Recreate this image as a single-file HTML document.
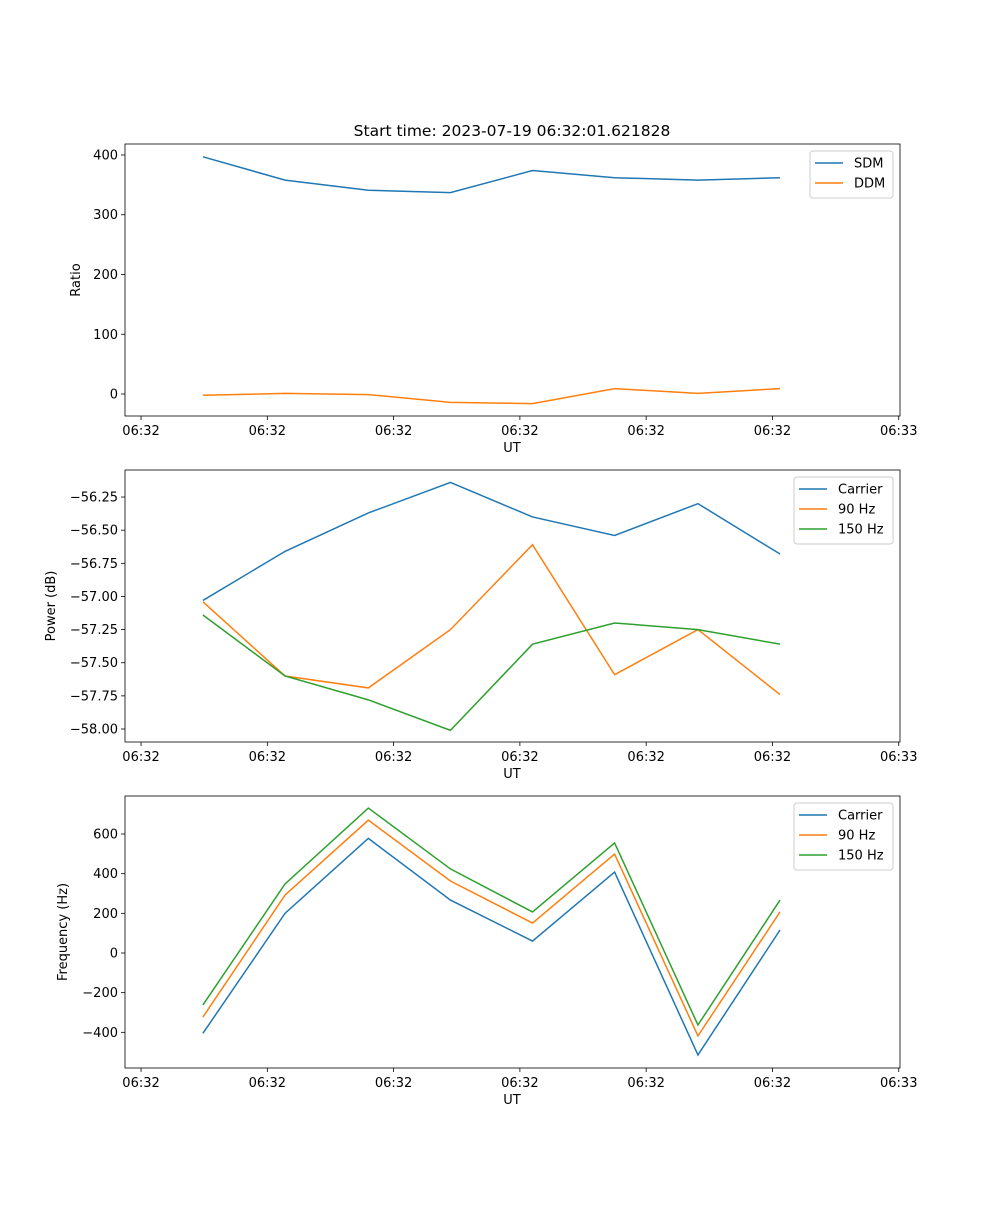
<!DOCTYPE html>
<html><head><meta charset="utf-8"><style>
body{margin:0;background:#fff}
svg text{font-family:"DejaVu Sans","Liberation Sans",sans-serif;font-size:13px;fill:#000}
</style></head><body>
<svg id="c" width="1000" height="1200" xmlns="http://www.w3.org/2000/svg">
<rect width="1000" height="1200" fill="#fff"/>
<text x="512" y="136" text-anchor="middle" style="font-size:15.5px">Start time: 2023-07-19 06:32:01.621828</text>
</svg>
<script>
const times=[4.9,11.4,18.0,24.5,31.0,37.5,44.1,50.6];
const xTicks=[0,10,20,30,40,50,60];
const xTickLabels=["06:32","06:32","06:32","06:32","06:32","06:32","06:33"];
const sdm=[397,358,341,337,374,362,358,362];
const ddm=[-2,1,-1,-14,-16,9,1,9];
const powCarrier=[-57.03,-56.66,-56.37,-56.14,-56.40,-56.54,-56.30,-56.68];
const pow90=[-57.04,-57.60,-57.69,-57.25,-56.61,-57.59,-57.25,-57.74];
const pow150=[-57.14,-57.60,-57.78,-58.01,-57.36,-57.20,-57.25,-57.36];
const freqCarrier=[-405,200,578,267,60,408,-514,116];
const freq90=[-323,292,670,363,151,499,-418,207];
const freq150=[-262,348,731,424,207,555,-363,267];
const ticks1=[0,100,200,300,400];
const ticks2=[-58.00,-57.75,-57.50,-57.25,-57.00,-56.75,-56.50,-56.25];
const ticks3=[-400,-200,0,200,400,600];
const svg=document.getElementById('c');
const NS='http://www.w3.org/2000/svg';
const C=['#1f77b4','#ff7f0e','#2ca02c'];
function mk(t,a,p){const e=document.createElementNS(NS,t);for(const k in a)e.setAttribute(k,a[k]);(p||svg).appendChild(e);return e;}
const L=125,R=900,X0=-1.27,X1=60.1;
function xs(t){return L+(t-X0)/(X1-X0)*(R-L);}
function panel(name,top,bot,ymin,ymax,yt,fmt,ylabel,series,names,legW){
  const g=mk('g',{});
  
  
  const ys=v=>bot-(v-ymin)/(ymax-ymin)*(bot-top);
  series.forEach((s,i)=>{
    const pl=mk('polyline',{points:s.map((v,j)=>xs(times[j])+','+ys(v)).join(' '),fill:'none',stroke:C[i],'stroke-width':1.5},g);
    
    
  });
  mk('rect',{x:L,y:top,width:R-L,height:bot-top,fill:'none',stroke:'#000','stroke-width':0.8},g);
  xTicks.forEach((t,i)=>{const x=xs(t);mk('line',{x1:x,x2:x,y1:bot,y2:bot+4,stroke:'#000','stroke-width':0.8},g);
    const tx=mk('text',{x:x,y:bot+19,'text-anchor':'middle'},g);tx.textContent=xTickLabels[i];
    
    });
  yt.forEach(v=>{const y=ys(v);mk('line',{x1:L-4,x2:L,y1:y,y2:y,stroke:'#000','stroke-width':0.8},g);
    const tx=mk('text',{x:L-7,y:y+4.5,'text-anchor':'end'},g);tx.textContent=fmt(v);
    
    });
  const xl=mk('text',{x:512,y:bot+36,'text-anchor':'middle'},g);xl.textContent='UT';
  
  
  const yl=mk('text',{x:0,y:0,'text-anchor':'middle',transform:`translate(${legW.yx},${(top+bot)/2}) rotate(-90)`},g);yl.textContent=ylabel;
  
  
  const lx=R-7-legW.w, ly=top+7, lh=7+names.length*20;
  const lg=mk('g',{},g);
  
  
  mk('rect',{x:lx,y:ly,width:legW.w,height:lh,rx:3,fill:'#fff','fill-opacity':0.8,stroke:'#ccc'},lg);
  names.forEach((n,i)=>{const y=ly+12+i*20;
    mk('line',{x1:lx+5,x2:lx+33,y1:y,y2:y,stroke:C[i],'stroke-width':1.5},lg);
    const t=mk('text',{x:lx+44,y:y+4.5},lg);t.textContent=n;
    
    });
}
panel('ratio',144,416,-36.8,418.4,ticks1,v=>String(v),'Ratio',[sdm,ddm],['SDM','DDM'],{w:83,yx:80});
panel('power',470,742,-58.098,-56.046,ticks2,v=>'\u2212'+Math.abs(v).toFixed(2),'Power (dB)',[powCarrier,pow90,pow150],['Carrier','90 Hz','150 Hz'],{w:99,yx:55});
panel('frequency',796,1068,-579.9,791.7,ticks3,v=>(v<0?'\u2212':'')+Math.abs(v),'Frequency (Hz)',[freqCarrier,freq90,freq150],['Carrier','90 Hz','150 Hz'],{w:99,yx:67});
</script>
</body></html>
